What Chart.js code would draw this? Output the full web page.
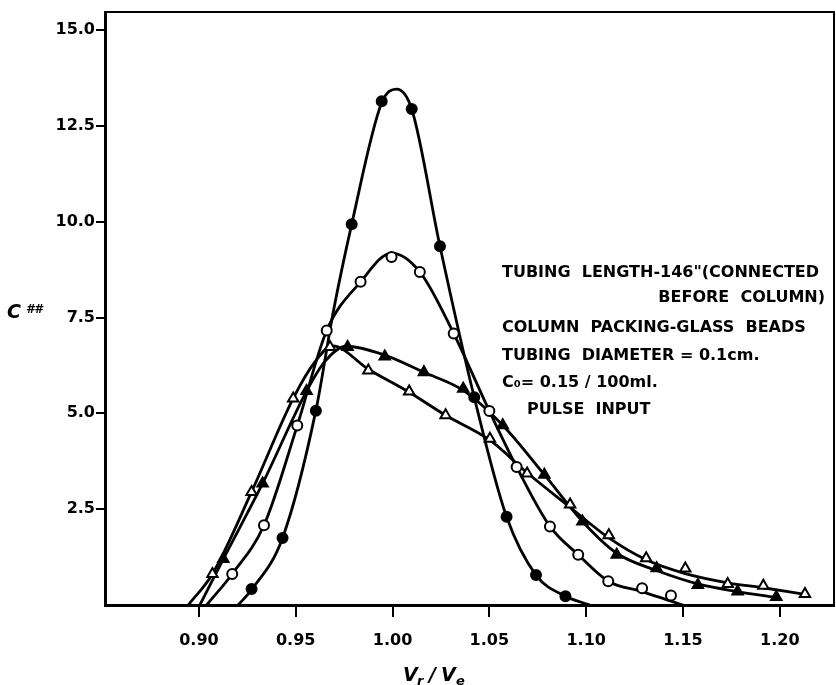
<!DOCTYPE html>
<html><head><meta charset="utf-8">
<script src="https://cdn.jsdelivr.net/npm/chart.js"></script>
<style>html,body{margin:0;padding:0;background:#fff;}canvas{display:block;}</style>
</head><body>
<canvas id="c" width="836" height="685"></canvas>
<script>
// ---- tick labels ----
const xTicks = [0.90, 0.95, 1.00, 1.05, 1.10, 1.15, 1.20];
const yTicks = [2.5, 5.0, 7.5, 10.0, 12.5, 15.0];

// ---- measured points (markers) ----
const fcX = [0.9272, 0.9432, 0.9604, 0.9789, 0.9944, 1.0099, 1.0245, 1.0422, 1.0589, 1.0741, 1.0893];
const fcY = [0.42, 1.75, 5.07, 9.93, 13.14, 12.94, 9.36, 5.42, 2.30, 0.78, 0.23];

const ocX = [0.9172, 0.9336, 0.9508, 0.9660, 0.9835, 0.9995, 1.0141, 1.0316, 1.0500, 1.0641, 1.0813, 1.0959, 1.1114, 1.1289, 1.1438];
const ocY = [0.81, 2.08, 4.68, 7.16, 8.43, 9.08, 8.69, 7.08, 5.06, 3.60, 2.05, 1.31, 0.62, 0.44, 0.25];

const ftX = [0.9126, 0.9329, 0.9556, 0.9768, 0.9960, 1.0162, 1.0365, 1.0569, 1.0784, 1.0981, 1.1158, 1.1364, 1.1577, 1.1782, 1.1982];
const ftY = [1.20, 3.17, 5.58, 6.73, 6.48, 6.07, 5.64, 4.69, 3.40, 2.18, 1.31, 0.96, 0.52, 0.35, 0.21];

const otX = [0.9070, 0.9272, 0.9487, 0.9677, 0.9875, 1.0086, 1.0274, 1.0503, 1.0695, 1.0917, 1.1117, 1.1310, 1.1512, 1.1731, 1.1915, 1.2130];
const otY = [0.81, 2.95, 5.39, 6.73, 6.12, 5.57, 4.95, 4.34, 3.43, 2.62, 1.82, 1.22, 0.95, 0.55, 0.50, 0.29];

// ---- fitted curves ----
const fcCurveX = [0.9203, 0.9272, 0.9432, 0.9604, 0.9694, 0.9789, 0.9944, 1.0021, 1.0099, 1.0245, 1.0422, 1.0589, 1.0741, 1.0896, 1.1020];
const fcCurveY = [0, 0.40, 1.75, 5.07, 7.65, 9.93, 13.10, 13.46, 12.94, 9.36, 5.42, 2.30, 0.78, 0.22, 0];

const ocCurveX = [0.9040, 0.9172, 0.9336, 0.9508, 0.9660, 0.9835, 0.9995, 1.0141, 1.0316, 1.0500, 1.0641, 1.0813, 1.0959, 1.1114, 1.1289, 1.1438, 1.1500];
const ocCurveY = [0, 0.81, 2.08, 4.68, 7.16, 8.43, 9.18, 8.69, 7.08, 5.06, 3.60, 2.05, 1.31, 0.62, 0.35, 0.10, 0];

const ftCurveX = [0.9005, 0.9126, 0.9329, 0.9556, 0.9650, 0.9760, 0.9960, 1.0162, 1.0365, 1.0569, 1.0784, 1.0981, 1.1158, 1.1364, 1.1577, 1.1782, 1.2000];
const ftCurveY = [0, 1.20, 3.17, 5.58, 6.35, 6.75, 6.52, 6.07, 5.60, 4.69, 3.40, 2.18, 1.35, 0.90, 0.55, 0.35, 0.18];

const otCurveX = [0.8945, 0.9070, 0.9272, 0.9487, 0.9600, 0.9690, 0.9875, 1.0086, 1.0274, 1.0503, 1.0695, 1.0917, 1.1117, 1.1310, 1.1512, 1.1731, 1.1915, 1.2130];
const otCurveY = [0, 0.81, 2.95, 5.39, 6.35, 6.76, 6.15, 5.55, 4.95, 4.30, 3.45, 2.55, 1.75, 1.18, 0.82, 0.58, 0.45, 0.28];

// ---- annotation text ----
const noteLines = [
  'TUBING  LENGTH-146"(CONNECTED',
  'BEFORE  COLUMN)',
  'COLUMN  PACKING-GLASS  BEADS',
  'TUBING  DIAMETER = 0.1cm.',
  'C\u2080= 0.15 / 100ml.',
  'PULSE  INPUT'
];

const pts = (xs, ys) => xs.map((x, i) => ({x: x, y: ys[i]}));
const FONT = '"DejaVu Sans", "Liberation Sans", sans-serif';

function markerSet(xs, ys, style, filled, r) {
  return {
    data: pts(xs, ys), showLine: false, order: 0, clip: false,
    pointStyle: style, pointRadius: r, pointHoverRadius: r,
    pointBackgroundColor: filled ? '#000' : '#fff',
    pointBorderColor: '#000', pointBorderWidth: 2
  };
}
function curveSet(xs, ys) {
  return {
    data: pts(xs, ys), showLine: true, order: 1,
    borderColor: '#000', borderWidth: 2.8, pointRadius: 0, pointHoverRadius: 0,
    cubicInterpolationMode: 'monotone', fill: false
  };
}

const decor = {
  id: 'decor',
  afterDraw(chart) {
    const c = chart.ctx, a = chart.chartArea;
    c.save();
    // frame top & right
    c.strokeStyle = '#000'; c.lineWidth = 2;
    c.beginPath(); c.moveTo(a.left, a.top); c.lineTo(a.right, a.top); c.lineTo(a.right, a.bottom); c.stroke();
    c.fillStyle = '#000';
    // annotation block
    c.font = 'bold 16px ' + FONT; c.textBaseline = 'middle';
    const lx = 502, rys = [273, 298, 328, 356, 383, 410];
    noteLines.forEach((t, i) => {
      if (i === 1) { c.textAlign = 'right'; c.fillText(t, 825, rys[i]); }
      else if (i === 5) { c.textAlign = 'left'; c.fillText(t, 527, rys[i]); }
      else { c.textAlign = 'left'; c.fillText(t, lx, rys[i]); }
    });
    // y title C##
    c.textAlign = 'left'; c.textBaseline = 'alphabetic';
    c.font = 'italic bold 19px ' + FONT;
    c.fillText('C', 7, 318);
    c.font = 'italic bold 12px ' + FONT;
    c.fillText('##', 26, 313);
    // x title Vr /Ve
    const base = 681;
    c.font = 'italic bold 19px ' + FONT;
    c.fillText('V', 403, base);
    c.font = 'italic bold 13px ' + FONT;
    c.fillText('r', 417, base + 4);
    c.font = 'italic bold 19px ' + FONT;
    c.fillText('/', 429, base);
    c.fillText('V', 441, base);
    c.font = 'italic bold 13px ' + FONT;
    c.fillText('e', 456, base + 4);
    c.restore();
  }
};

new Chart(document.getElementById('c'), {
  type: 'scatter',
  data: {
    datasets: [
      markerSet(fcX, fcY, 'circle', true, 5),
      markerSet(ocX, ocY, 'circle', false, 5),
      markerSet(ftX, ftY, 'triangle', true, 6),
      markerSet(otX, otY, 'triangle', false, 6),
      curveSet(fcCurveX, fcCurveY),
      curveSet(ocCurveX, ocCurveY),
      curveSet(ftCurveX, ftCurveY),
      curveSet(otCurveX, otCurveY)
    ]
  },
  options: {
    responsive: false, animation: false,
    layout: {autoPadding: false, padding: {top: 12, right: 2, left: 0, bottom: 0}},
    plugins: {legend: {display: false}, tooltip: {enabled: false}},
    scales: {
      x: {
        type: 'linear', min: 0.8515, max: 1.228,
        afterBuildTicks: s => { s.ticks = xTicks.map(v => ({value: v})); },
        afterFit: s => { s.height = 80; s.paddingLeft = 0; s.paddingRight = 0; },
        ticks: {callback: v => Number(v).toFixed(2), color: '#000', padding: 14, maxRotation: 0, autoSkip: false,
                font: {family: FONT, size: 16, weight: 'bold'}},
        grid: {drawOnChartArea: false, drawTicks: true, tickLength: 12, color: '#000', lineWidth: 2},
        border: {display: true, color: '#000', width: 3}
      },
      y: {
        type: 'linear', min: 0, max: 15.47,
        afterBuildTicks: s => { s.ticks = yTicks.map(v => ({value: v})); },
        afterFit: s => { s.width = 105; s.paddingTop = 0; s.paddingBottom = 0; },
        ticks: {callback: v => Number(v).toFixed(1), color: '#000', padding: 1, autoSkip: false,
                font: {family: FONT, size: 16, weight: 'bold'}},
        grid: {drawOnChartArea: false, drawTicks: true, tickLength: 9, color: '#000', lineWidth: 2},
        border: {display: true, color: '#000', width: 3}
      }
    }
  },
  plugins: [decor]
});
</script>
</body></html>
